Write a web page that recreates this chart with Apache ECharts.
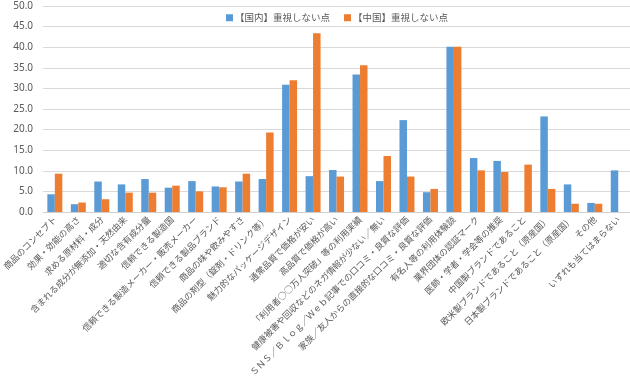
<!DOCTYPE html>
<html>
<head>
<meta charset="utf-8">
<script src="https://cdn.jsdelivr.net/npm/echarts@6/dist/echarts.min.js"></script>
<style>
html,body{margin:0;padding:0;background:#fff;}
#c{width:630px;height:381px;}
</style>
</head>
<body>
<div id="c"></div>
<script>
const categories = [
  '商品のコンセプト',
  '効果・効能の高さ',
  '求める原材料・成分',
  '含まれる成分が無添加・天然由来',
  '適切な含有成分量',
  '信頼できる製造国',
  '信頼できる製造メーカー・販売メーカー',
  '信頼できる製品ブランド',
  '商品の味や飲みやすさ',
  '商品の剤型（錠剤・ドリンク等）',
  '魅力的なパッケージデザイン',
  '通常品質で価格が安い',
  '高品質で価格が高い',
  '「利用者○○万人突破」等の利用実績',
  '健康被害や回収などのネガ情報が少ない／無い',
  'ＳＮＳ／Ｂｌｏｇ／Ｗｅｂ記事での口コミ・良質な評価',
  '家族／友人からの直接的な口コミ・良質な評価',
  '有名人等の利用体験談',
  '業界団体の認証マーク',
  '医師・学者・学会等の推奨',
  '中国製ブランドであること',
  '欧米製ブランドであること（原産国）',
  '日本製ブランドであること（原産国）',
  'その他',
  'いずれも当てはまらない'
];
const seriesNames = ['【国内】重視しない点', '【中国】重視しない点'];
const domestic = [4.3,1.9,7.4,6.7,8.0,5.9,7.5,6.2,7.4,8.0,30.9,8.7,10.2,33.4,7.5,22.3,4.8,40.1,13.1,12.4,null,23.2,6.7,2.2,10.1];
const china = [9.3,2.3,3.1,4.7,4.7,6.4,5.0,6.0,9.3,19.3,32.0,43.4,8.6,35.6,13.6,8.6,5.6,40.1,10.1,9.7,11.5,5.6,2.0,2.0,null];
const yTicks = { min: 0, max: 50, interval: 5 };

const chart = echarts.init(document.getElementById('c'));
chart.setOption({
  animation: false,
  textStyle: { fontFamily: "'Noto Sans CJK JP', 'Noto Sans', sans-serif" },
  color: ['#5B9BD5', '#ED7D31'],
  legend: {
    left: 221, top: 8,
    itemWidth: 7, itemHeight: 7, itemGap: 14,
    icon: 'rect',
    textStyle: { fontSize: 9.5, color: '#595959', padding: [0,0,0,-3] },
    data: seriesNames
  },
  grid: { left: 35, right: 0, top: 6, bottom: 169, containLabel: false },
  xAxis: {
    type: 'category',
    data: categories,
    axisTick: { show: false },
    axisLine: { lineStyle: { color: '#d0d0d0' } },
    axisLabel: { interval: 0, rotate: 45, margin: 6, fontSize: 8.8, color: '#595959' }
  },
  yAxis: {
    type: 'value',
    min: yTicks.min, max: yTicks.max, interval: yTicks.interval,
    axisLine: { show: false },
    axisTick: { show: false },
    splitLine: { lineStyle: { color: '#d9d9d9' } },
    axisLabel: { fontSize: 10, color: '#595959', margin: 10, fontFamily: "'Noto Sans', sans-serif",
      formatter: v => v.toFixed(1) }
  },
  series: [
    { name: seriesNames[0], type: 'bar', data: domestic, barWidth: 7.5, barGap: '0%' },
    { name: seriesNames[1], type: 'bar', data: china, barWidth: 7.5, barGap: '0%' }
  ]
});
</script>
</body>
</html>
